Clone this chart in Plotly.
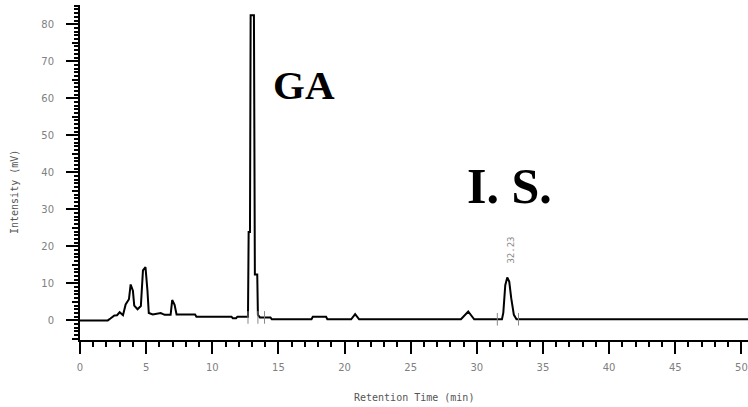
import plotly.graph_objects as go

# Chromatogram trace (retention time in min, intensity in mV)
rt = [0.0, 2.1, 2.3, 2.6, 2.8, 3.0, 3.25, 3.45, 3.7, 3.83, 4.0, 4.1, 4.35, 4.6, 4.76, 4.95,
      5.1, 5.2, 5.5, 6.1, 6.4, 6.85, 6.97, 7.15, 7.3, 8.7, 8.8, 11.45, 11.55, 11.8, 11.9,
      12.7, 12.75, 12.85, 12.9, 13.15, 13.18, 13.22, 13.4, 13.45, 13.6, 14.4, 14.5,
      17.5, 17.6, 18.6, 18.7, 20.5, 20.8, 21.1, 28.8, 29.35, 29.8, 31.9, 32.0, 32.15,
      32.3, 32.45, 32.6, 32.8, 33.0, 33.1, 50.5]
intensity = [0.0, 0.0, 0.5, 1.35, 1.4, 2.2, 1.4, 4.3, 5.7, 9.7, 8.0, 4.0, 3.0, 3.9, 13.5, 14.4,
             8.0, 2.0, 1.6, 2.0, 1.5, 1.5, 5.5, 4.2, 1.6, 1.6, 1.0, 1.0, 0.6, 0.6, 1.0,
             1.0, 23.9, 23.9, 82.4, 82.4, 52.0, 12.4, 12.4, 1.5, 0.8, 0.8, 0.3,
             0.3, 1.0, 1.0, 0.3, 0.3, 1.7, 0.3, 0.3, 2.4, 0.3, 0.3, 2.0, 9.5,
             11.6, 10.5, 6.0, 1.5, 0.3, 0.3, 0.3]

# Integration event markers
event_rt = [12.7, 13.45, 13.95, 31.55, 33.15]
event_val = [0.8, 0.8, 0.8, 0.3, 0.3]

x_ticks = [0, 5, 10, 15, 20, 25, 30, 35, 40, 45, 50]
y_ticks = [0, 10, 20, 30, 40, 50, 60, 70, 80]

peak_labels = ["GA", "I. S."]
peak_label_rt = [16.9, 32.5]
peak_label_val = [63.5, 36.3]
peak_label_size = [41, 50]
rt_label = "32.23"
rt_label_pos = (32.55, 19.0)

fig = go.Figure()
fig.add_trace(go.Scatter(x=rt, y=intensity, mode="lines",
                         line=dict(color="black", width=2), showlegend=False,
                         hoverinfo="skip"))
fig.add_trace(go.Scatter(x=event_rt, y=event_val, mode="markers",
                         marker=dict(symbol="line-ns", size=9,
                                     line=dict(color="#888888", width=1)),
                         showlegend=False, hoverinfo="skip"))
# invisible trace for secondary axis (mid ticks at 5)
fig.add_trace(go.Scatter(x=[0], y=[0], yaxis="y2", mode="markers",
                         marker=dict(opacity=0), showlegend=False, hoverinfo="skip"))

tick_font = dict(family="DejaVu Sans", size=10, color="#808080")
yr = [-5.3, 85.2]

fig.update_layout(
    width=748, height=407,
    margin=dict(l=80, r=0, t=5, b=67),
    paper_bgcolor="white", plot_bgcolor="white",
    xaxis=dict(range=[0, 50.5], tickvals=x_ticks, ticks="outside", ticklen=12,
               tickwidth=2, tickcolor="black", showline=True, linecolor="black",
               linewidth=2, showgrid=False, zeroline=False, tickfont=tick_font,
               ticklabelstandoff=5,
               minor=dict(dtick=1, ticks="outside", ticklen=5, tickwidth=2,
                          tickcolor="black", showgrid=False)),
    yaxis=dict(range=yr, tickvals=y_ticks, ticks="outside", ticklen=12,
               tickwidth=2, tickcolor="black", showline=True, linecolor="black",
               linewidth=2, showgrid=False, zeroline=False, tickfont=tick_font,
               ticklabelstandoff=10,
               minor=dict(dtick=1, ticks="outside", ticklen=4, tickwidth=1.5,
                          tickcolor="black", showgrid=False)),
    yaxis2=dict(range=yr, overlaying="y", side="left",
                tickvals=[-5, 5, 15, 25, 35, 45, 55, 65, 75],
                ticks="outside", ticklen=7, tickwidth=2, tickcolor="black",
                showticklabels=False, showgrid=False, zeroline=False, showline=False),
)

for txt, xv, yv, sz in zip(peak_labels, peak_label_rt, peak_label_val, peak_label_size):
    fig.add_annotation(x=xv, y=yv, xref="x", yref="y", text="<b>" + txt + "</b>",
                       showarrow=False,
                       font=dict(family="Liberation Serif", size=sz, color="black"),
                       xanchor="center", yanchor="middle")

fig.add_annotation(x=rt_label_pos[0], y=rt_label_pos[1], xref="x", yref="y",
                   text=rt_label, showarrow=False, textangle=-90,
                   font=dict(family="DejaVu Sans Mono", size=9, color="#888888"))

fig.add_annotation(x=0.5, y=(340 - 397) / 335, xref="paper", yref="paper",
                   text="Retention Time (min)", showarrow=False,
                   font=dict(family="DejaVu Sans Mono", size=10, color="#555555"),
                   xanchor="center", yanchor="middle")
fig.add_annotation(x=(14 - 80) / 668, y=(340 - 192) / 335, xref="paper", yref="paper",
                   text="Intensity (mV)", showarrow=False, textangle=-90,
                   font=dict(family="DejaVu Sans Mono", size=10, color="#555555"),
                   xanchor="center", yanchor="middle")

fig.write_html("out.html", config={"displayModeBar": False},
               post_script="document.body.style.margin='0';"
                           "document.body.style.overflow='hidden';")
